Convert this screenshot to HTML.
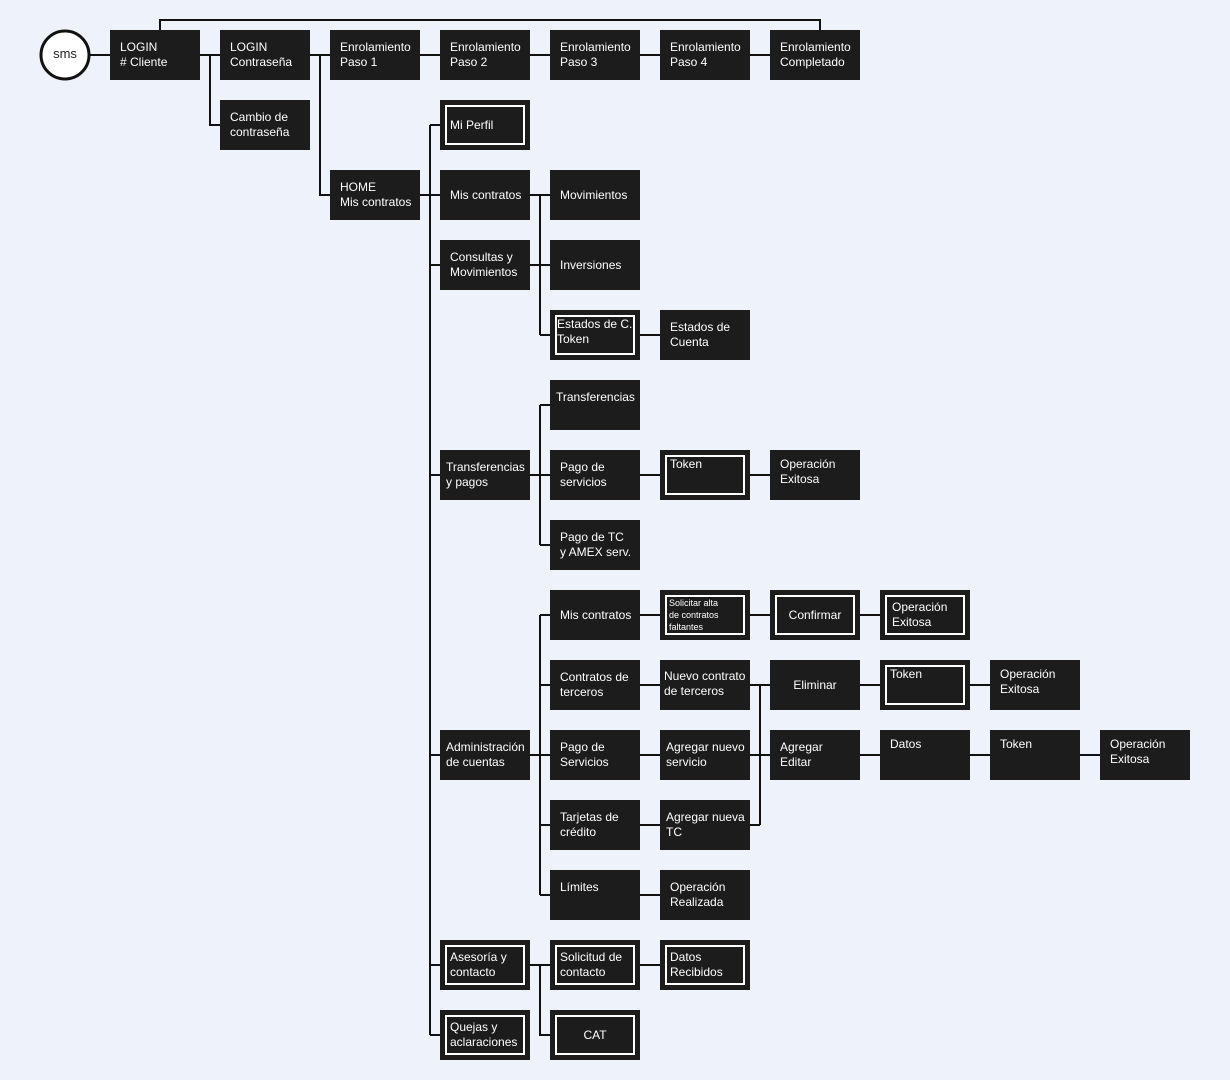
<!DOCTYPE html>
<html><head><meta charset="utf-8"><style>
body{margin:0;width:1230px;height:1080px;background:#eef2fb;position:relative;overflow:hidden;font-family:"Liberation Sans",Arial,sans-serif}
.b{position:absolute;width:90px;height:50px;background:#1c1c1c;color:#fff;font-size:12px;line-height:15px;box-sizing:border-box;padding:10px 0 0 10px;white-space:nowrap}
.i::after{content:"";position:absolute;left:5px;top:5px;right:5px;bottom:5px;border:2px solid #fff}
.c{display:flex;align-items:center;padding:0 0 0 10px}
.m{display:flex;align-items:center;justify-content:center;padding:0}
svg{position:absolute;left:0;top:0}
</style></head><body>
<svg width="1230" height="1080" fill="none" stroke="#111" stroke-width="2">
<circle cx="65" cy="55" r="24" fill="#fff" stroke-width="3"/>
<path d="M89 55H110M160 30V20H820V30M200 55H220M210 55V125H220M310 55H330M320 55V195H330M420 55H440M530 55H550M640 55H660M750 55H770"/>
<path d="M420 195H430M430 125V1035M430 125H440M430 195H440M430 265H440M430 475H440M430 755H440M430 965H440M430 1035H440"/>
<path d="M530 195H540M530 265H550M540 195V335M540 195H550M540 335H550M640 335H660"/>
<path d="M530 475H550M540 405V545M540 405H550M540 545H550M640 475H660M750 475H770"/>
<path d="M530 755H550M540 615V895M540 615H550M540 685H550M540 825H550M540 895H550M640 615H770M750 615H770M860 615H880M640 685H660M640 755H660M640 825H660M640 895H660"/>
<path d="M750 685H770M750 755H770M750 825H760M760 685V825M860 685H880M970 685H990M860 755H880M970 755H990M1080 755H1100"/>
<path d="M530 965H550M540 965V1035H550M640 965H660"/>
</svg>
<div style="position:absolute;left:41px;top:46px;width:48px;text-align:center;font-size:13px;color:#222">sms</div>
<div class="b" style="left:110px;top:30px">LOGIN<br># Cliente</div>
<div class="b" style="left:220px;top:30px">LOGIN<br>Contraseña</div>
<div class="b" style="left:330px;top:30px">Enrolamiento<br>Paso 1</div>
<div class="b" style="left:440px;top:30px">Enrolamiento<br>Paso 2</div>
<div class="b" style="left:550px;top:30px">Enrolamiento<br>Paso 3</div>
<div class="b" style="left:660px;top:30px">Enrolamiento<br>Paso 4</div>
<div class="b" style="left:770px;top:30px">Enrolamiento<br>Completado</div>
<div class="b" style="left:220px;top:100px">Cambio de<br>contraseña</div>
<div class="b" style="left:330px;top:170px">HOME<br>Mis contratos</div>
<div class="b i c" style="left:440px;top:100px">Mi Perfil</div>
<div class="b c" style="left:440px;top:170px">Mis contratos</div>
<div class="b" style="left:440px;top:240px">Consultas y<br>Movimientos</div>
<div class="b c" style="left:550px;top:170px">Movimientos</div>
<div class="b c" style="left:550px;top:240px">Inversiones</div>
<div class="b i" style="left:550px;top:310px;padding:7px 0 0 7px">Estados de C.<br>Token</div>
<div class="b" style="left:660px;top:310px">Estados de<br>Cuenta</div>
<div class="b" style="left:550px;top:380px;padding-left:6px">Transferencias</div>
<div class="b" style="left:440px;top:450px;padding-left:6px">Transferencias<br>y pagos</div>
<div class="b" style="left:550px;top:450px">Pago de<br>servicios</div>
<div class="b i" style="left:660px;top:450px;padding-top:7px">Token</div>
<div class="b" style="left:770px;top:450px;padding-top:7px">Operación<br>Exitosa</div>
<div class="b" style="left:550px;top:520px">Pago de TC<br>y AMEX serv.</div>
<div class="b c" style="left:550px;top:590px">Mis contratos</div>
<div class="b i" style="left:660px;top:590px;font-size:9px;line-height:12px;padding:7px 0 0 9px">Solicitar alta<br>de contratos<br>faltantes</div>
<div class="b i m" style="left:770px;top:590px">Confirmar</div>
<div class="b i" style="left:880px;top:590px;padding:10px 0 0 12px">Operación<br>Exitosa</div>
<div class="b" style="left:550px;top:660px">Contratos de<br>terceros</div>
<div class="b" style="left:660px;top:660px;padding:9px 0 0 4px">Nuevo contrato<br>de terceros</div>
<div class="b m" style="left:770px;top:660px">Eliminar</div>
<div class="b i" style="left:880px;top:660px;padding-top:7px">Token</div>
<div class="b" style="left:990px;top:660px;padding-top:7px">Operación<br>Exitosa</div>
<div class="b" style="left:440px;top:730px;padding-left:6px">Administración<br>de cuentas</div>
<div class="b" style="left:550px;top:730px">Pago de<br>Servicios</div>
<div class="b" style="left:660px;top:730px;padding-left:6px">Agregar nuevo<br>servicio</div>
<div class="b" style="left:770px;top:730px">Agregar<br>Editar</div>
<div class="b" style="left:880px;top:730px;padding-top:7px">Datos</div>
<div class="b" style="left:990px;top:730px;padding-top:7px">Token</div>
<div class="b" style="left:1100px;top:730px;padding-top:7px">Operación<br>Exitosa</div>
<div class="b" style="left:550px;top:800px">Tarjetas de<br>crédito</div>
<div class="b" style="left:660px;top:800px;padding-left:6px">Agregar nueva<br>TC</div>
<div class="b" style="left:550px;top:870px">Límites</div>
<div class="b" style="left:660px;top:870px">Operación<br>Realizada</div>
<div class="b i" style="left:440px;top:940px">Asesoría y<br>contacto</div>
<div class="b i" style="left:550px;top:940px">Solicitud de<br>contacto</div>
<div class="b i" style="left:660px;top:940px">Datos<br>Recibidos</div>
<div class="b i" style="left:440px;top:1010px">Quejas y<br>aclaraciones</div>
<div class="b i m" style="left:550px;top:1010px">CAT</div>
</body></html>
